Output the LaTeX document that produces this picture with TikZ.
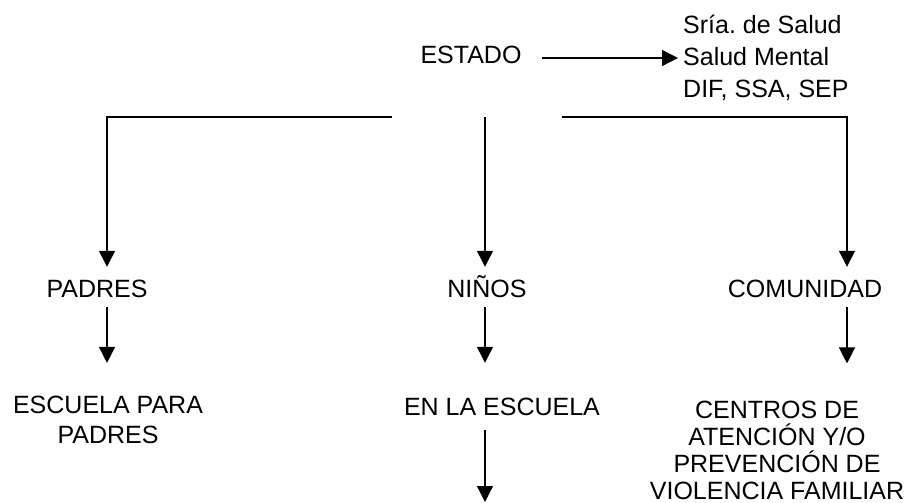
\documentclass[tikz,border=0pt]{standalone}
\usepackage{fontspec}
\setmainfont{Liberation Sans}
\usetikzlibrary{arrows.meta}
\frenchspacing
\tikzset{
  lbl/.style={inner sep=0pt, font=\fontsize{25}{30}\selectfont},
  one/.style={lbl, text height=18pt, text depth=0pt},
  arr/.style={line width=1.3pt, -{Triangle[length=16pt,width=16pt]}}
}
\begin{document}
\begin{tikzpicture}[x=1pt,y=-1pt]
\useasboundingbox (0,0) rectangle (908,503);
% nodes
\node[one] (estado) at (471,55) {ESTADO};
\node[lbl, anchor=west, align=left, font=\fontsize{25}{32}\selectfont] (sria) at (683,58)
  {Sría.\ de Salud\\Salud Mental\\DIF, SSA, SEP};
\node[one] (padres) at (97,288) {PADRES};
\node[one] (ninos) at (487,288) {NIÑOS};
\node[one] (comunidad) at (805,288) {COMUNIDAD};
\node[lbl, align=center, font=\fontsize{25}{30}\selectfont] (escuela) at (108,420)
  {ESCUELA PARA\\PADRES};
\node[one] (enla) at (502,406) {EN LA ESCUELA};
\node[lbl, align=center, font=\fontsize{25}{27}\selectfont] (centros) at (777,450)
  {CENTROS DE\\ATENCIÓN Y/O\\PREVENCIÓN DE\\VIOLENCIA FAMILIAR};
% helper coordinates
\coordinate (e1) at ([xshift=20pt]estado.east);
\coordinate (bl) at (392,117);
\coordinate (bm) at (485,117);
\coordinate (br) at (562,117);
\coordinate (fin) at (485,502);
% connectors
\draw[arr] (e1 |- sria.west) -- ([xshift=-5pt]sria.west);
\draw[arr] (bl) -| ([xshift=10pt,yshift=12pt]padres.north);
\draw[arr] (bm) -- ([xshift=-2pt,yshift=12pt]ninos.north);
\draw[arr] (br) -| ([xshift=42pt,yshift=12pt]comunidad.north);
% second level
\coordinate (p1) at ([xshift=10pt,yshift=-10pt]padres.south);
\coordinate (p2) at ([yshift=33pt]escuela.north);
\draw[arr] (p1) -- (p1 |- p2);
\coordinate (n1) at ([xshift=-2pt,yshift=-10pt]ninos.south);
\coordinate (n2) at ([yshift=34pt]enla.north);
\draw[arr] (n1) -- (n1 |- n2);
\coordinate (c1) at ([xshift=42pt,yshift=-10pt]comunidad.south);
\coordinate (c2) at ([yshift=37pt]centros.north);
\draw[arr] (c1) -- (c1 |- c2);
\coordinate (l1) at ([xshift=-17pt,yshift=-15pt]enla.south);
\draw[arr] (l1) -- (l1 |- fin);
\end{tikzpicture}
\end{document}
